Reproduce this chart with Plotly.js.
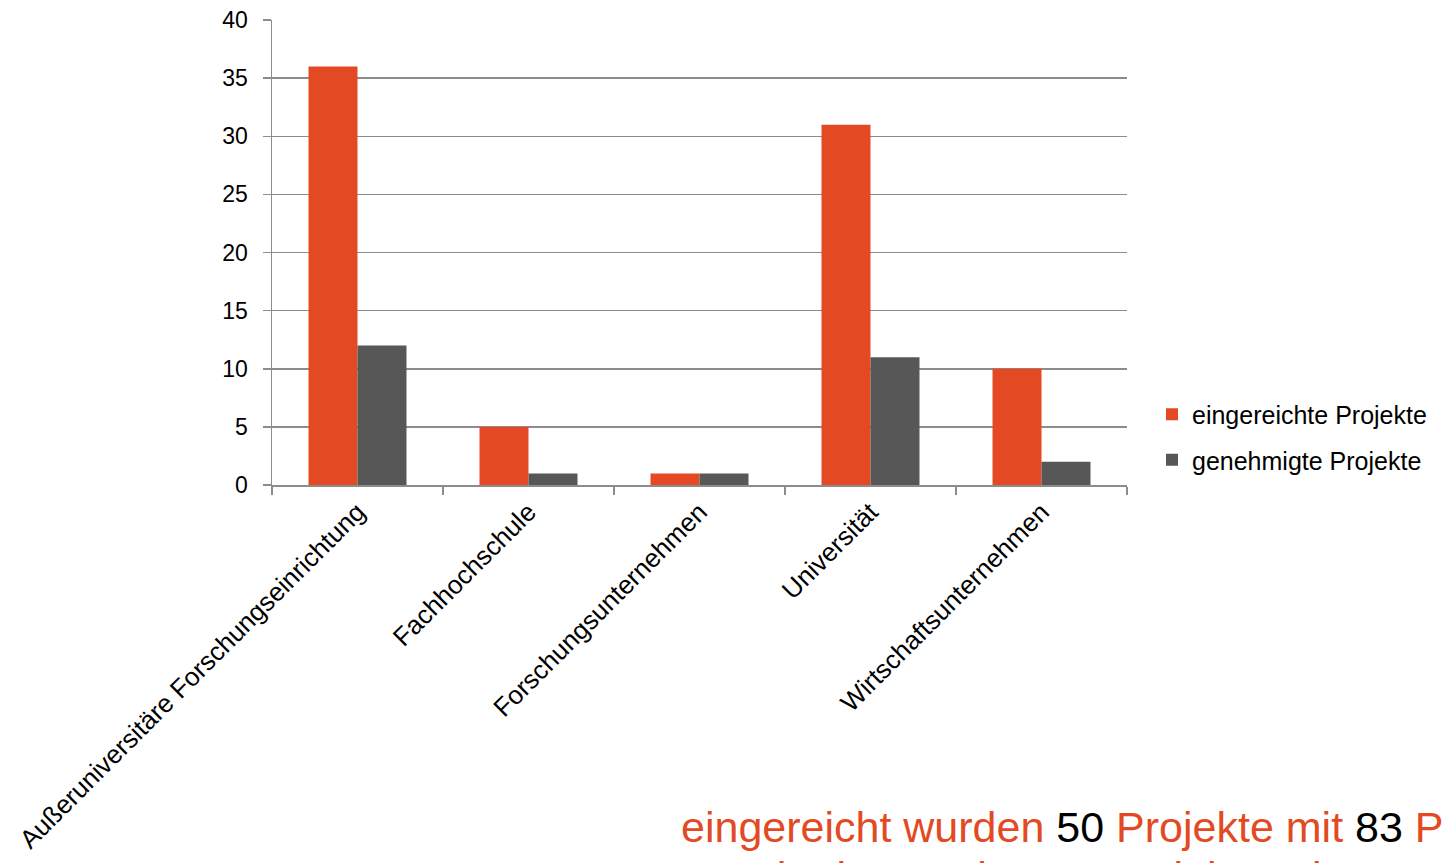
<!DOCTYPE html>
<html>
<head>
<meta charset="utf-8">
<script src="https://cdn.plot.ly/plotly-3.0.1.min.js"></script>
<style>html,body{margin:0;padding:0;background:#fff;}#chart{width:1444px;height:863px;}</style>
</head>
<body>
<div id="chart"></div>
<script>
const categories = ["Außeruniversitäre Forschungseinrichtung", "Fachhochschule", "Forschungsunternehmen", "Universität", "Wirtschaftsunternehmen"];
const eingereicht = [36, 5, 1, 31, 10];
const genehmigt = [12, 1, 1, 11, 2];
const seriesNames = ["eingereichte Projekte", "genehmigte Projekte"];
const yTicks = [0, 5, 10, 15, 20, 25, 30, 35, 40];
const noteLine1 = 'eingereicht wurden <span style="color:#000000">50</span> Projekte mit <span style="color:#000000">83</span> Partnern';
const noteLine2 = 'genehmigt wurden <span style="color:#000000">17</span> Projekte mit <span style="color:#000000">27</span> Partnern';

const FONT = "Liberation Sans, Arial, sans-serif";
const ORANGE = "#E34A24";
const GRAY = "#575757";
const AXIS = "#8c8c8c";

const traces = [
  {type: "bar", name: seriesNames[0], x: categories, y: eingereicht, marker: {color: ORANGE, line: {width: 0}}, legendgroup: "a", hoverinfo: "y"},
  {type: "bar", name: seriesNames[1], x: categories, y: genehmigt, marker: {color: GRAY, line: {width: 0}}, legendgroup: "b", hoverinfo: "y"}
];

const layout = {
  width: 1444, height: 863,
  margin: {l: 272, r: 317, t: 20, b: 378, pad: 0},
  paper_bgcolor: "#ffffff", plot_bgcolor: "#ffffff",
  font: {family: FONT, color: "#000000", size: 23},
  barmode: "group", bargap: 0.427, bargroupgap: 0,
  xaxis: {
    type: "category", automargin: false,
    showline: true, linecolor: AXIS, linewidth: 1.5,
    ticks: "outside", tickson: "boundaries", ticklen: 8, tickcolor: AXIS, tickwidth: 1.5,
    tickangle: -45, tickfont: {family: FONT, size: 26, color: "#000000"},
    showgrid: false, zeroline: false
  },
  yaxis: {
    range: [0, 40], tickvals: yTicks, automargin: false,
    showline: true, linecolor: AXIS, linewidth: 1.5,
    ticks: "outside", ticklen: 8, tickcolor: AXIS, tickwidth: 1.5,
    ticklabelstandoff: 10,
    tickfont: {family: FONT, size: 23, color: "#000000"},
    showgrid: true, gridcolor: AXIS, gridwidth: 1.5, zeroline: false
  },
  legend: {
    x: (1152 - 272) / 855, xanchor: "left", y: 0.103, yanchor: "middle",
    font: {family: FONT, size: 25, color: "#000000"},
    traceorder: "grouped", tracegroupgap: 10, bgcolor: "rgba(0,0,0,0)",
    borderwidth: 0
  },
  annotations: [
    {xref: "paper", yref: "paper", x: (679 - 272) / 855, y: (485 - 827) / 465, xanchor: "left", yanchor: "middle",
     text: noteLine1, showarrow: false, align: "left", font: {family: FONT, size: 43, color: ORANGE}},
    {xref: "paper", yref: "paper", x: (679 - 272) / 855, y: (485 - 877) / 465, xanchor: "left", yanchor: "middle",
     text: noteLine2, showarrow: false, align: "left", font: {family: FONT, size: 43, color: ORANGE}}
  ],
  showlegend: true
};

Plotly.newPlot("chart", traces, layout, {displayModeBar: false, staticPlot: true});
</script>
</body>
</html>
